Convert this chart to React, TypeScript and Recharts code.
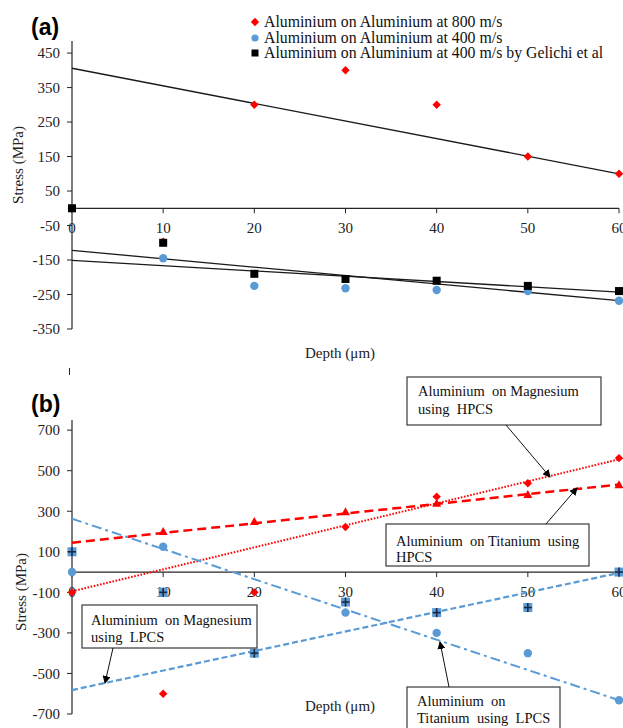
import React from 'react';
import { ComposedChart, ReferenceDot, ReferenceLine, Scatter, XAxis, YAxis } from 'recharts';

const DEPTH = [0, 10, 20, 30, 40, 50, 60];
const FIT_X = [0, 60];

// panel (a)
const AL_800 = [0, -97, 300, 400, 300, 150, 100];
const AL_400 = [0, -145, -225, -232, -237, -240, -268];
const GELICHI = [0, -100, -190, -205, -210, -225, -240];
const AL_800_FIT = [406, 100];
const AL_400_FIT = [-122, -268];
const GELICHI_FIT = [-151, -243];
const A_YTICKS = [-350, -250, -150, -50, 50, 150, 250, 350, 450];

// panel (b)
const MG_HPCS = [-100, -600, -100, 222, 372, 438, 562];
const TI_HPCS = [null, 200, 250, 297, 340, 382, 431];
const TI_LPCS = [0, 125, null, -200, -300, -400, -632];
const MG_LPCS = [100, -100, -400, -148, -200, -175, 0];
const MG_HPCS_FIT = [-95, 556];
const TI_HPCS_FIT = [145, 432];
const TI_LPCS_FIT = [263, -632];
const MG_LPCS_FIT = [-582, -4];
const B_YTICKS = [-700, -500, -300, -100, 100, 300, 500, 700];

const LEGEND = [
  'Aluminium on Aluminium at 800 m/s',
  'Aluminium on Aluminium at 400 m/s',
  'Aluminium on Aluminium at 400 m/s by Gelichi et al',
];

const RED = '#FF0000';
const BLUE = '#5B9BD5';
const INK = '#262626';
const SERIF = '"Liberation Serif", "Times New Roman", serif';
const NB = '\u00A0';

const pts = (xs: number[], ys: (number | null)[]) =>
  xs.map((x, i) => ({ x, y: ys[i] })).filter((p) => p.y != null);

const Diamond = (p: any) => {
  const s = 4.2;
  return (
    <polygon
      points={`${p.cx},${p.cy - s} ${p.cx + s},${p.cy} ${p.cx},${p.cy + s} ${p.cx - s},${p.cy}`}
      fill={RED}
    />
  );
};
const Triangle = (p: any) => (
  <polygon points={`${p.cx},${p.cy - 4.5} ${p.cx + 4.5},${p.cy + 3.5} ${p.cx - 4.5},${p.cy + 3.5}`} fill={RED} />
);
const Circle = (p: any) => <circle cx={p.cx} cy={p.cy} r={4.2} fill={BLUE} />;
const Square = (p: any) => <rect x={p.cx - 4} y={p.cy - 4} width={8} height={8} fill="#000" />;
const PlusSquare = (p: any) => (
  <g>
    <rect x={p.cx - 4.5} y={p.cy - 4.5} width={9} height={9} fill={BLUE} />
    <line x1={p.cx - 4} x2={p.cx + 4} y1={p.cy} y2={p.cy} stroke="#1b2a44" strokeWidth={1.6} />
    <line x1={p.cx} x2={p.cx} y1={p.cy - 4.5} y2={p.cy + 4.5} stroke="#1b2a44" strokeWidth={1.6} />
  </g>
);
const NoDot = () => <g />;

const XTick = (p: any) => (
  <g>
    <line x1={p.cx} x2={p.cx} y1={p.cy} y2={p.cy + 5} stroke={INK} strokeWidth={1} />
    <text x={p.cx} y={p.cy + 20} textAnchor="middle" dominantBaseline="central" fontSize={15} fontFamily={SERIF} fill="#222">
      {p.value}
    </text>
  </g>
);

function Axes({ domain, ticks }: { domain: number[]; ticks: number[] }) {
  return (
    <>
      <XAxis type="number" dataKey="x" domain={[0, 60]} hide />
      <YAxis
        type="number"
        dataKey="y"
        domain={domain}
        ticks={ticks}
        allowDataOverflow
        width={72}
        tickSize={5}
        tickMargin={7}
        axisLine={{ stroke: INK, strokeWidth: 1.2 }}
        tickLine={{ stroke: INK }}
        tick={{ fontSize: 15, fill: '#222', fontFamily: SERIF }}
      />
    </>
  );
}

function zeroAxis() {
  return [
    <ReferenceLine key="zero" y={0} stroke={INK} strokeWidth={1.2} />,
    ...DEPTH.map((d) => (
      <ReferenceDot key={`t${d}`} x={d} y={0} r={0} shape={(p: any) => <XTick {...p} value={d} />} />
    )),
  ];
}

function fitLine(ys: number[], stroke: string, width: number, dash?: string) {
  return (
    <Scatter
      data={pts(FIT_X, ys)}
      fill={stroke}
      line={{ stroke, strokeWidth: width, strokeDasharray: dash }}
      shape={NoDot}
      isAnimationActive={false}
    />
  );
}

export default function App() {
  return (
    <div style={{ position: 'absolute', left: 0, top: 0, width: 623, height: 728, background: '#fff', overflow: 'hidden' }}>
      <div style={{ position: 'absolute', left: 0, top: 0 }}>
        <ComposedChart width={623} height={360} margin={{ top: 41, right: 4, bottom: 31, left: 0 }}>
          {Axes({ domain: [-350, 485], ticks: A_YTICKS })}
          {zeroAxis()}
          {fitLine(AL_800_FIT, '#1a1a1a', 1.3)}
          {fitLine(AL_400_FIT, '#1a1a1a', 1.3)}
          {fitLine(GELICHI_FIT, '#1a1a1a', 1.3)}
          <Scatter data={pts(DEPTH, AL_800)} shape={Diamond} isAnimationActive={false} />
          <Scatter data={pts(DEPTH, AL_400)} shape={Circle} isAnimationActive={false} />
          <Scatter data={pts(DEPTH, GELICHI)} shape={Square} isAnimationActive={false} />
        </ComposedChart>
      </div>
      <div style={{ position: 'absolute', left: 0, top: 360 }}>
        <ComposedChart width={623} height={368} margin={{ top: 60, right: 4, bottom: 14, left: 0 }}>
          {Axes({ domain: [-700, 750], ticks: B_YTICKS })}
          {zeroAxis()}
          {fitLine(MG_HPCS_FIT, RED, 2, '1.6 1.6')}
          {fitLine(TI_HPCS_FIT, RED, 2.5, '9 5')}
          {fitLine(TI_LPCS_FIT, BLUE, 2, '10 4 3 4')}
          {fitLine(MG_LPCS_FIT, BLUE, 2.2, '6 3')}
          <Scatter data={pts(DEPTH, MG_HPCS)} shape={Diamond} isAnimationActive={false} />
          <Scatter data={pts(DEPTH, TI_HPCS)} shape={Triangle} isAnimationActive={false} />
          <Scatter data={pts(DEPTH, TI_LPCS)} shape={Circle} isAnimationActive={false} />
          <Scatter data={pts(DEPTH, MG_LPCS)} shape={PlusSquare} isAnimationActive={false} />
        </ComposedChart>
      </div>

      {/* legend of panel (a) */}
      {LEGEND.map((t, i) => (
        <div
          key={t}
          style={{
            position: 'absolute',
            left: 250,
            top: 13 + i * 15.7,
            height: 18,
            display: 'flex',
            alignItems: 'center',
            fontFamily: SERIF,
            fontSize: 15.8,
            color: '#111',
            whiteSpace: 'nowrap',
          }}
        >
          <svg width={14} height={18}>
            {i === 0 && <Diamond cx={5} cy={9} />}
            {i === 1 && <circle cx={5} cy={9} r={3.6} fill={BLUE} />}
            {i === 2 && <rect x={1.5} y={5.5} width={7} height={7} fill="#000" />}
          </svg>
          <span>{t}</span>
        </div>
      ))}

      {/* titles and annotations */}
      <svg width={623} height={728} style={{ position: 'absolute', left: 0, top: 0, pointerEvents: 'none' }}>
        <defs>
          <marker id="arr" markerWidth={8} markerHeight={8} refX={7} refY={4} orient="auto" markerUnits="userSpaceOnUse">
            <path d="M0,0 L8,4 L0,8 Z" fill="#000" />
          </marker>
        </defs>
        <g fontFamily='"Liberation Sans", Arial, sans-serif' fontWeight="bold" fontSize={23} fill="#000">
          <text x={31} y={27} dominantBaseline="central">(a)</text>
          <text x={31} y={404} dominantBaseline="central">(b)</text>
        </g>
        <g fontFamily={SERIF} fontSize={15} fill="#222">
          <text x={340} y={353} textAnchor="middle" dominantBaseline="central">Depth (μm)</text>
          <text x={340} y={706} textAnchor="middle" dominantBaseline="central">Depth (μm)</text>
          <text x={18} y={165} textAnchor="middle" dominantBaseline="central" transform="rotate(-90 18 165)">Stress (MPa)</text>
          <text x={21} y={592} textAnchor="middle" dominantBaseline="central" transform="rotate(-90 21 592)">Stress (MPa)</text>
        </g>
        <line x1={69.5} x2={69.5} y1={368} y2={375} stroke={INK} />

        <g fill="#fff" stroke="#3a3a3a" strokeWidth={1.2}>
          <rect x={407} y={377} width={194} height={48} />
          <rect x={386} y={524} width={203} height={42} />
          <rect x={82} y={605} width={175} height={43} />
          <rect x={407} y={687} width={153} height={50} />
        </g>
        <g fontFamily={SERIF} fontSize={14.5} fill="#111">
          <text x={418} y={396}>{`Aluminium${NB} on Magnesium`}</text>
          <text x={418} y={414}>{`using${NB} HPCS`}</text>
          <text x={396} y={546}>{`Aluminium${NB} on Titanium${NB} using`}</text>
          <text x={396} y={562}>HPCS</text>
          <text x={91} y={625}>{`Aluminium${NB} on Magnesium`}</text>
          <text x={91} y={642}>{`using${NB} LPCS`}</text>
          <text x={417} y={706}>{`Aluminium${NB} on`}</text>
          <text x={417} y={723}>{`Titanium${NB} using${NB} LPCS`}</text>
        </g>
        <g stroke="#111" strokeWidth={1} markerEnd="url(#arr)">
          <line x1={506} y1={425} x2={550} y2={477} />
          <line x1={546} y1={524} x2={577} y2={488} />
          <line x1={113} y1={648} x2={105} y2={683} />
          <line x1={449} y1={687} x2={440} y2={642} />
        </g>
      </svg>
    </div>
  );
}
